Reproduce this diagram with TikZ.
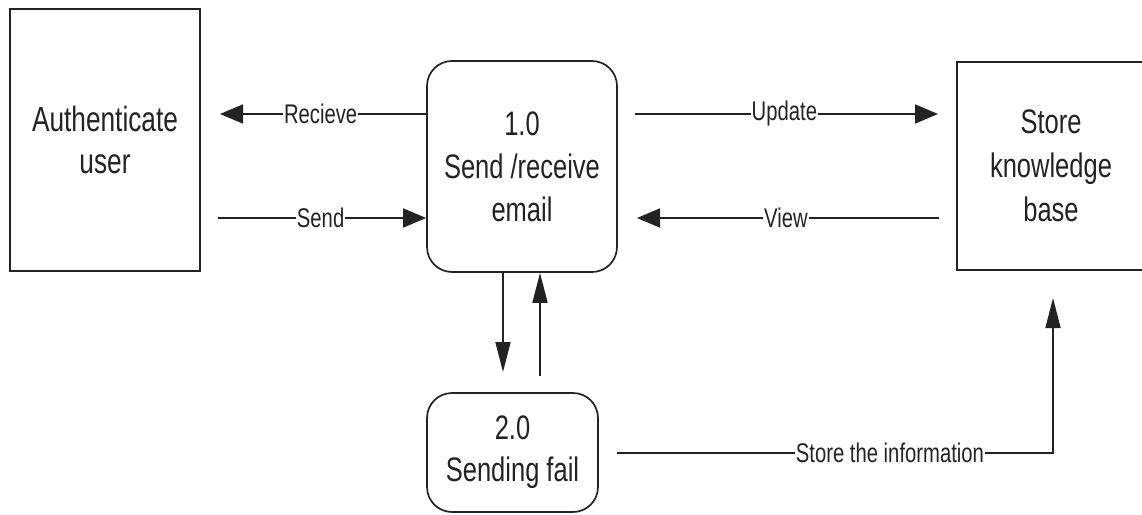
\documentclass[tikz,border=0pt]{standalone}
\usepackage{fontspec}
\setmainfont{Liberation Sans}
\newfontfamily\sqfont[FakeStretch=0.75]{Liberation Sans}
\usetikzlibrary{arrows.meta}
\definecolor{ink}{RGB}{35,35,35}
\tikzset{
  boxtext/.style={text=ink, align=center, font=\sqfont\fontsize{35}{42}\selectfont},
  entity/.style={draw=ink, line width=1.7pt, inner sep=0pt, boxtext},
  process/.style={draw=ink, line width=1.7pt, rounded corners=25pt, inner sep=0pt, boxtext},
  flowlbl/.style={fill=white, inner sep=1pt, text=ink, font=\sqfont\fontsize{27}{30}\selectfont},
  harrow/.style={draw=ink, line width=1.7pt, -{Triangle[length=23pt,width=19pt]}},
  varrow/.style={draw=ink, line width=1.7pt, -{Triangle[length=30pt,width=15pt]}},
}
\begin{document}
\begin{tikzpicture}[x=1pt,y=-1pt]
\clip (0,0) rectangle (1142,514);
\fill[white] (0,0) rectangle (1142,514);

\node[entity, minimum width=190pt, minimum height=262pt] (auth) at (105,140) {Authenticate\\user};
\node[process, minimum width=190pt, minimum height=211pt, font=\sqfont\fontsize{34}{43}\selectfont] (p1) at (522,166.5) {1.0\\Send /receive\\email};
\node[entity, minimum width=188pt, minimum height=208pt, font=\sqfont\fontsize{34}{44}\selectfont] (store) at (1051,166) {Store\\knowledge\\base};
\node[process, minimum width=171pt, minimum height=119pt, font=\sqfont\fontsize{34}{42}\selectfont] (p2) at (512.5,452.5) {2.0\\Sending fail};

% free ends
\coordinate (recTip) at (220,114);
\coordinate (sendTail) at (218,218);
\coordinate (updTail) at (635,114);
\coordinate (updTip) at (938,114);
\coordinate (viewTail) at (939,218);
\coordinate (viewTip) at (637,218);
\coordinate (downTip) at (503,372);
\coordinate (upTail) at (540,376);
\coordinate (infoTail) at (617,453);
\coordinate (infoCorner) at (1053,453);
\coordinate (infoTip) at (1053,298);

\draw[harrow] (p1.west |- recTip) -- node[flowlbl, pos=0.512] {Recieve} (recTip);
\draw[harrow] (sendTail) -- node[flowlbl, pos=0.493] {Send} (p1.west |- sendTail);
\draw[harrow] (updTail) -- node[flowlbl, pos=0.493] {Update} (updTip);
\draw[harrow] (viewTail) -- node[flowlbl, pos=0.507] {View} (viewTip);
\draw[varrow] (p1.south -| downTip) -- (downTip);
\draw[varrow] (upTail) -- (p1.south -| upTail);
\draw[varrow] (infoTail) -- node[flowlbl, pos=0.626] {Store the information} (infoCorner) -- (infoTip);
\end{tikzpicture}
\end{document}
